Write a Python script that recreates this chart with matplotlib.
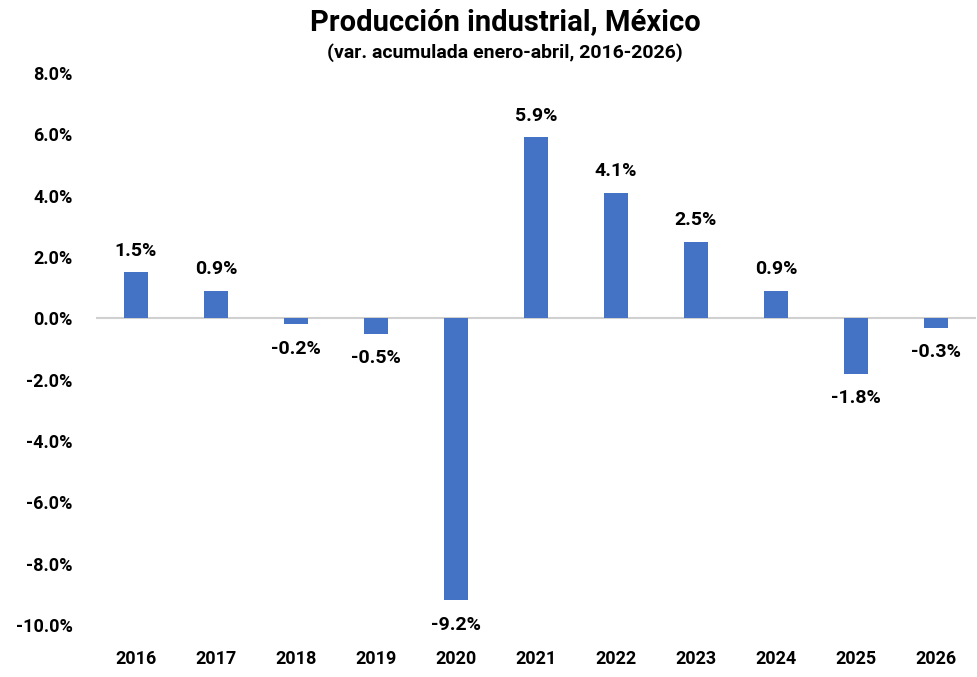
import matplotlib.pyplot as plt
from matplotlib.ticker import FuncFormatter

plt.rcParams['font.family'] = ['Roboto', 'DejaVu Sans']
plt.rcParams['font.weight'] = 'bold'

years = ['2016', '2017', '2018', '2019', '2020', '2021', '2022', '2023', '2024', '2025', '2026']
valores = [1.5, 0.9, -0.2, -0.5, -9.2, 5.9, 4.1, 2.5, 0.9, -1.8, -0.3]

fig = plt.figure(figsize=(9.78, 6.77), dpi=100)
ax = fig.add_axes([96 / 978, 1 - 625 / 677, 880 / 978, (625 - 73) / 677])

x = range(len(years))
ax.bar(x, valores, width=0.31, color='#4472C4', zorder=2)

for i, v in enumerate(valores):
    if v >= 0:
        ax.text(i, v + 0.4, f'{v:.1f}%', ha='center', va='bottom', fontsize=14, fontweight='bold')
    else:
        ax.text(i, v - 0.5, f'{v:.1f}%', ha='center', va='top', fontsize=14, fontweight='bold')

ax.set_ylim(-10, 8)
ax.set_xlim(-0.5, len(years) - 0.5)
ax.set_yticks(range(-10, 9, 2))
ax.yaxis.set_major_formatter(FuncFormatter(lambda y, _: f'{y:.1f}%'))
ax.axhline(0, color='#D0D0D0', lw=1.5, zorder=1)

ax.set_xticks(list(x))
ax.set_xticklabels(years)
ax.tick_params(axis='both', length=0, labelsize=13)
ax.tick_params(axis='x', pad=18)
ax.tick_params(axis='y', pad=17)
for lab in ax.get_xticklabels() + ax.get_yticklabels():
    lab.set_fontweight('bold')
for s in ax.spines.values():
    s.set_visible(False)

fig.text(505 / 978, 1 - 22 / 677, 'Producción industrial, México', ha='center', va='center',
         fontsize=21, fontweight='bold')
fig.text(505 / 978, 1 - 53 / 677, '(var. acumulada enero-abril, 2016-2026)', ha='center', va='center',
         fontsize=14, fontweight='bold')

fig.savefig('out.png', dpi=100)
